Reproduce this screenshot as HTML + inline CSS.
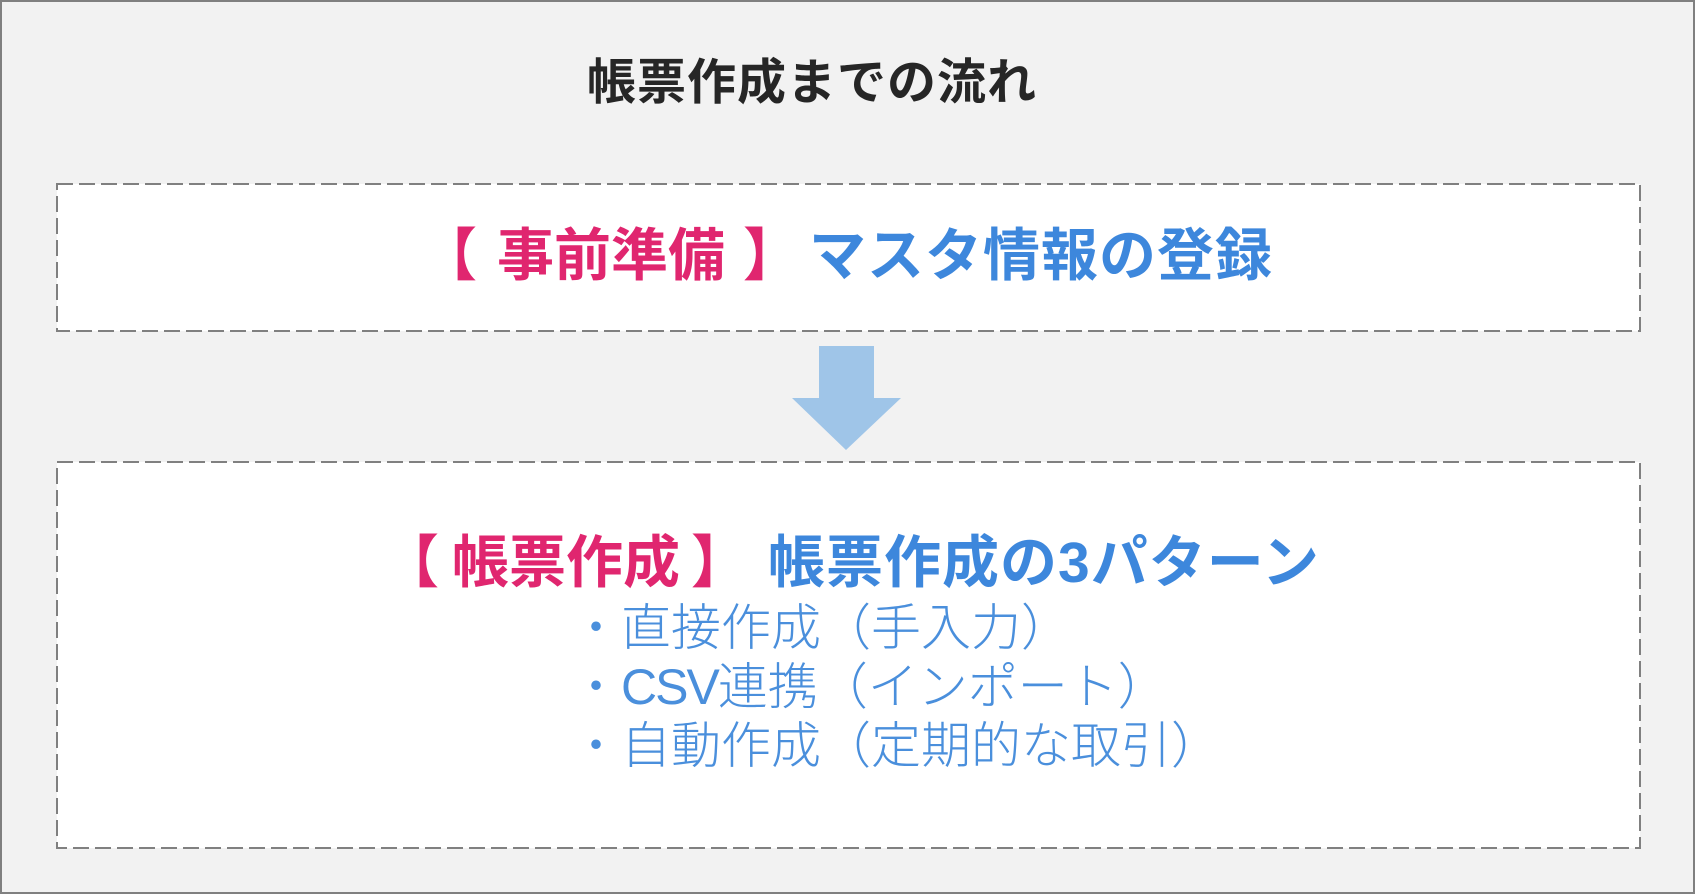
<!DOCTYPE html>
<html><head><meta charset="utf-8"><style>
html,body{margin:0;padding:0}
body{width:1695px;height:894px;position:relative;background:#f2f2f2;overflow:hidden;font-family:"Liberation Sans","Noto Sans CJK JP",sans-serif}
.frame{position:absolute;left:0;top:0;width:1691px;height:890px;border:2px solid #808080}
.t{position:absolute;white-space:nowrap}
.p{color:#e0266f}
.b{color:#3d87dc;letter-spacing:1px}
</style></head><body>
<div class="frame"></div>
<svg width="1695" height="894" style="position:absolute;left:0;top:0">
<rect x="57" y="184" width="1583" height="147" fill="#fff" stroke="#808080" stroke-width="2" stroke-dasharray="16 6"/>
<rect x="57" y="462" width="1583" height="386" fill="#fff" stroke="#808080" stroke-width="2" stroke-dasharray="16 6"/>
<polygon points="819,346 874,346 874,398 901,398 846,450 792,398 819,398" fill="#9fc5e8"/>
</svg>
<div class="t" style="left:587px;top:58px;font-size:49px;line-height:50px;font-weight:bold;color:#262626;letter-spacing:1px">帳票作成までの流れ</div>
<div class="t" style="left:420px;top:228px;font-size:57px;line-height:57px;font-weight:bold"><span class="p">【<span style="margin-left:20px"></span>事前準備<span style="margin-left:18px"></span>】</span><span style="margin-left:9px"></span><span class="b">マスタ情報の登録</span></div>
<div class="t" style="left:382px;top:535px;font-size:57px;line-height:57px;font-weight:bold"><span class="p">【<span style="margin-left:13px"></span>帳票作成<span style="margin-left:11px"></span>】</span><span style="margin-left:20px"></span><span class="b">帳票作成の3パターン</span></div>
<div class="t" style="left:571px;top:599px;font-size:50px;line-height:59px;font-weight:300;color:#4a8fdc">・直接作成（手入力）<br>・<span style="letter-spacing:-2px">CSV</span>連携（インポート）<br>・自動作成（定期的な取引）</div>
</body></html>
